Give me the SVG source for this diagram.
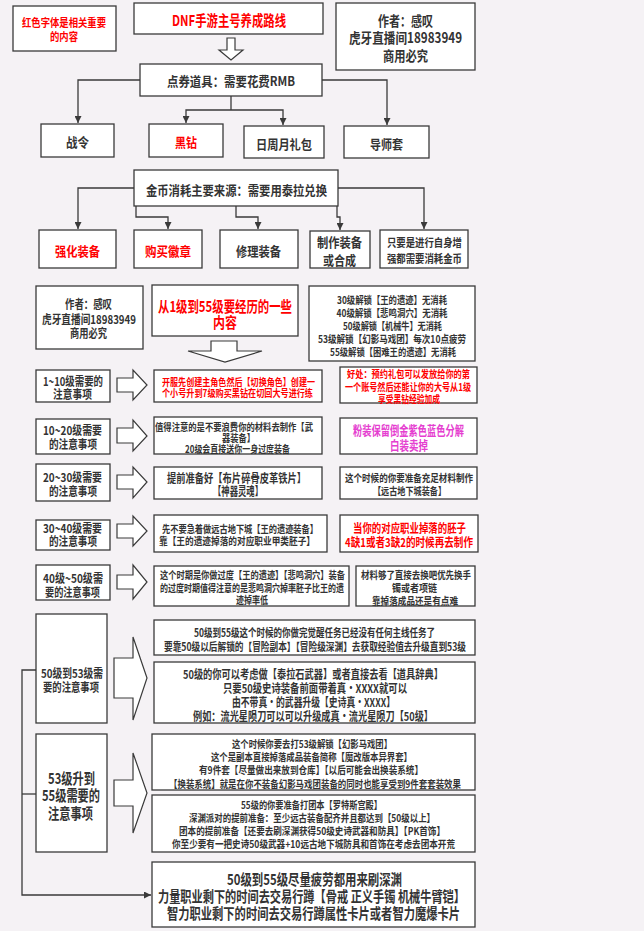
<svg xmlns="http://www.w3.org/2000/svg" width="644" height="931" viewBox="0 0 644 931">
<style>
.b{fill:#fff;stroke:#3a3a3a;stroke-width:1.3}
.c{fill:none;stroke:#3a3a3a;stroke-width:1.3}
.ba{fill:#fff;stroke:#3a3a3a;stroke-width:1.2}
text{font-family:"Noto Sans CJK SC","Noto Sans",sans-serif;font-weight:bold;fill:#333;text-anchor:middle;dominant-baseline:central}
.r{fill:#f00}
.p{fill:#e53fd0}
.s10{font-size:10px}.s105{font-size:10.5px}.s11{font-size:11px}.s12{font-size:12px}.s13{font-size:13px}.s14{font-size:14px}.s15{font-size:15px}
</style>
<defs>
<marker id="ah" viewBox="0 0 10 10" refX="10" refY="5" markerWidth="7" markerHeight="7" markerUnits="userSpaceOnUse" orient="auto"><path d="M0,0 L10,5 L0,10 z" fill="#3a3a3a"/></marker>
</defs>
<rect width="644" height="931" fill="#f5f2f5"/>

<g id="connectors">
<path class="c" d="M140,80 H78 V123" marker-end="url(#ah)"/>
<path class="c" d="M322,80 H387 V125" marker-end="url(#ah)"/>
<path class="c" d="M231,96 V110"/>
<path class="c" d="M231,110 H186 V123" marker-end="url(#ah)"/>
<path class="c" d="M231,110 H283 V125" marker-end="url(#ah)"/>
<path class="c" d="M134,188 H78 V229" marker-end="url(#ah)"/>
<path class="c" d="M338,188 H424 V229" marker-end="url(#ah)"/>
<path class="c" d="M136,206 V217 H168 V229" marker-end="url(#ah)"/>
<path class="c" d="M236,206 V217 H258 V229" marker-end="url(#ah)"/>
<path class="c" d="M337,206 V217 H340 V230" marker-end="url(#ah)"/>
<path class="c" d="M36,670 H22 V895 H151" marker-end="url(#ah)"/>
<path class="c" d="M22,794 H36"/>
</g>

<g id="block-arrows">
<polygon class="ba" points="227,38 235,38 235,50 243,50 231,60 219,50 227,50"/>
<polygon class="ba" points="211,341 237,341 237,351 262,351 225,362 188,351 211,351"/>
<polygon class="ba" points="117,378 133,378 133,370 147,385 133,400 133,392 117,392"/>
<polygon class="ba" points="117,428 133,428 133,420 147,436 133,451 133,443 117,443"/>
<polygon class="ba" points="117,475 133,475 133,467 147,482 133,498 133,489 117,489"/>
<polygon class="ba" points="117,524 133,524 133,516 147,531 133,546 133,538 117,538"/>
<polygon class="ba" points="117,575 133,575 133,565 147,582 133,599 133,589 117,589"/>
<polygon class="ba" points="114,658 133,658 133,637 147,678 133,720 133,698 114,698"/>
<polygon class="ba" points="114,780 133,780 133,753 147,793 133,833 133,806 114,806"/>
</g>

<g id="note"><rect class="b" x="13" y="6" width="103" height="45"/>
<text class="s11 r" x="64" y="22" textLength="84" lengthAdjust="spacingAndGlyphs">红色字体是相关重要</text>
<text class="s11 r" x="64" y="36" textLength="28" lengthAdjust="spacingAndGlyphs">的内容</text></g>

<g id="title"><rect class="b" x="134" y="3" width="189" height="31"/>
<text class="s15 r" x="229" y="19" textLength="114" lengthAdjust="spacingAndGlyphs">DNF手游主号养成路线</text></g>

<g id="author1"><rect class="b" x="336" y="3" width="139" height="67"/>
<text class="s14" x="405.5" y="20" textLength="55" lengthAdjust="spacingAndGlyphs">作者：感叹</text>
<text class="s14" x="405.5" y="37" textLength="113" lengthAdjust="spacingAndGlyphs">虎牙直播间18983949</text>
<text class="s14" x="405.5" y="55" textLength="45" lengthAdjust="spacingAndGlyphs">商用必究</text></g>

<g id="dianquan"><rect class="b" x="140" y="64" width="182" height="32"/>
<text class="s13" x="231" y="80" textLength="128" lengthAdjust="spacingAndGlyphs">点券道具：需要花费RMB</text></g>

<g id="zhanling"><rect class="b" x="41" y="124" width="73" height="33"/>
<text class="s13" x="77.5" y="141" textLength="23" lengthAdjust="spacingAndGlyphs">战令</text></g>
<g id="heizuan"><rect class="b" x="149" y="124" width="74" height="33"/>
<text class="s13 r" x="186" y="141" textLength="22" lengthAdjust="spacingAndGlyphs">黑钻</text></g>
<g id="libao"><rect class="b" x="244" y="126" width="80" height="32"/>
<text class="s13" x="284" y="143" textLength="56" lengthAdjust="spacingAndGlyphs">日周月礼包</text></g>
<g id="daoshi"><rect class="b" x="344" y="126" width="85" height="32"/>
<text class="s13" x="386.5" y="143" textLength="33" lengthAdjust="spacingAndGlyphs">导师套</text></g>

<g id="jinbi"><rect class="b" x="134" y="170" width="204" height="36"/>
<text class="s13" x="236.5" y="189" textLength="181" lengthAdjust="spacingAndGlyphs">金币消耗主要来源：需要用泰拉兑换</text></g>

<g id="qianghua"><rect class="b" x="39" y="230" width="77" height="38"/>
<text class="s13 r" x="77.5" y="250" textLength="45" lengthAdjust="spacingAndGlyphs">强化装备</text></g>
<g id="huizhang"><rect class="b" x="134" y="230" width="68" height="38"/>
<text class="s13 r" x="168" y="250" textLength="46" lengthAdjust="spacingAndGlyphs">购买徽章</text></g>
<g id="xiuli"><rect class="b" x="220" y="230" width="78" height="38"/>
<text class="s13" x="258.5" y="250" textLength="45" lengthAdjust="spacingAndGlyphs">修理装备</text></g>
<g id="zhizuo"><rect class="b" x="310" y="231" width="60" height="37"/>
<text class="s13" x="339.5" y="241" textLength="45" lengthAdjust="spacingAndGlyphs">制作装备</text>
<text class="s13" x="339.5" y="259" textLength="33" lengthAdjust="spacingAndGlyphs">或合成</text></g>
<g id="zishen"><rect class="b" x="380" y="230" width="88" height="38"/>
<text class="s11" x="424.5" y="242" textLength="75" lengthAdjust="spacingAndGlyphs">只要是进行自身增</text>
<text class="s11" x="424.5" y="258" textLength="75" lengthAdjust="spacingAndGlyphs">强都需要消耗金币</text></g>

<g id="author2"><rect class="b" x="36" y="286" width="107" height="63"/>
<text class="s12" x="88.5" y="303" textLength="47" lengthAdjust="spacingAndGlyphs">作者：感叹</text>
<text class="s12" x="89" y="318" textLength="94" lengthAdjust="spacingAndGlyphs">虎牙直播间18983949</text>
<text class="s12" x="88.5" y="332" textLength="37" lengthAdjust="spacingAndGlyphs">商用必究</text></g>

<g id="range"><rect class="b" x="152" y="285" width="146" height="51"/>
<text class="s15 r" x="225" y="305" textLength="134" lengthAdjust="spacingAndGlyphs">从1级到55级要经历的一些</text>
<text class="s15 r" x="225" y="321" textLength="24" lengthAdjust="spacingAndGlyphs">内容</text></g>

<g id="unlock"><rect class="b" x="309" y="286" width="166" height="75"/>
<text class="s105" x="392" y="299" textLength="110" lengthAdjust="spacingAndGlyphs">30级解锁【王的遗迹】无消耗</text>
<text class="s105" x="392" y="312" textLength="111" lengthAdjust="spacingAndGlyphs">40级解锁【悲鸣洞穴】无消耗</text>
<text class="s105" x="392.5" y="325" textLength="99" lengthAdjust="spacingAndGlyphs">50级解锁【机械牛】无消耗</text>
<text class="s105" x="392" y="338" textLength="148" lengthAdjust="spacingAndGlyphs">53级解锁【幻影马戏团】每次10点疲劳</text>
<text class="s105" x="393" y="351" textLength="126" lengthAdjust="spacingAndGlyphs">55级解锁【困难王的遗迹】无消耗</text></g>

<g id="lv1"><rect class="b" x="36" y="370" width="74" height="32"/>
<text class="s12" x="73" y="380" textLength="60" lengthAdjust="spacingAndGlyphs">1~10级需要的</text>
<text class="s12" x="72.5" y="393" textLength="39" lengthAdjust="spacingAndGlyphs">注意事项</text></g>
<g id="lv1-tip"><rect class="b" x="154" y="370" width="168" height="32"/>
<text class="s10 r" x="238.5" y="381" textLength="153" lengthAdjust="spacingAndGlyphs">开服先创建主角色然后【切换角色】创建一</text>
<text class="s10 r" x="237.5" y="392" textLength="151" lengthAdjust="spacingAndGlyphs">个小号升到7级购买黑钻在切回大号进行练</text></g>
<g id="lv1-note"><rect class="b" x="340" y="367" width="137" height="36"/>
<text class="s105 r" x="408.5" y="373" textLength="123" lengthAdjust="spacingAndGlyphs">好处：预约礼包可以发放给你的第</text>
<text class="s105 r" x="408" y="386" textLength="126" lengthAdjust="spacingAndGlyphs">一个账号然后还能让你的大号从1级</text>
<text class="s105 r" x="409" y="398.5" textLength="62" lengthAdjust="spacingAndGlyphs">享受黑钻经验加成</text></g>

<g id="lv2"><rect class="b" x="36" y="419" width="74" height="35"/>
<text class="s12" x="72.5" y="429" textLength="59" lengthAdjust="spacingAndGlyphs">10~20级需要</text>
<text class="s12" x="73" y="443" textLength="48" lengthAdjust="spacingAndGlyphs">的注意事项</text></g>
<g id="lv2-tip"><rect class="b" x="154" y="417" width="168" height="37"/>
<text class="s10" x="234" y="426" textLength="158" lengthAdjust="spacingAndGlyphs">值得注意的是不要浪费你的材料去制作【武</text>
<text class="s10" x="238.5" y="437" textLength="33" lengthAdjust="spacingAndGlyphs">器装备】</text>
<text class="s10" x="237.5" y="448" textLength="105" lengthAdjust="spacingAndGlyphs">20级会直接送你一身过度装备</text></g>
<g id="lv2-note"><rect class="b" x="340" y="418" width="137" height="36"/>
<text class="s13 p" x="408.5" y="429" textLength="111" lengthAdjust="spacingAndGlyphs">粉装保留倒金紫色蓝色分解</text>
<text class="s13 p" x="409" y="444" textLength="38" lengthAdjust="spacingAndGlyphs">白装卖掉</text></g>

<g id="lv3"><rect class="b" x="36" y="464" width="74" height="37"/>
<text class="s12" x="72.5" y="476" textLength="59" lengthAdjust="spacingAndGlyphs">20~30级需要</text>
<text class="s12" x="73" y="490" textLength="48" lengthAdjust="spacingAndGlyphs">的注意事项</text></g>
<g id="lv3-tip"><rect class="b" x="154" y="467" width="168" height="32"/>
<text class="s12" x="236.5" y="477" textLength="139" lengthAdjust="spacingAndGlyphs">提前准备好【布片碎骨皮革铁片】</text>
<text class="s12" x="238" y="490" textLength="50" lengthAdjust="spacingAndGlyphs">【神器灵魂】</text></g>
<g id="lv3-note"><rect class="b" x="340" y="467" width="137" height="32"/>
<text class="s105" x="409" y="477" textLength="128" lengthAdjust="spacingAndGlyphs">这个时候的你要准备充足材料制作</text>
<text class="s105" x="409.5" y="490" textLength="73" lengthAdjust="spacingAndGlyphs">【远古地下城装备】</text></g>

<g id="lv4"><rect class="b" x="36" y="520" width="74" height="30"/>
<text class="s12" x="72.5" y="527" textLength="59" lengthAdjust="spacingAndGlyphs">30~40级需要</text>
<text class="s12" x="73" y="540" textLength="48" lengthAdjust="spacingAndGlyphs">的注意事项</text></g>
<g id="lv4-tip"><rect class="b" x="154" y="515" width="173" height="37"/>
<text class="s105" x="240" y="528" textLength="156" lengthAdjust="spacingAndGlyphs">先不要急着做远古地下城【王的遗迹装备】</text>
<text class="s105" x="237" y="540" textLength="156" lengthAdjust="spacingAndGlyphs">靠【王的遗迹掉落的对应职业甲类胚子】</text></g>
<g id="lv4-note"><rect class="b" x="340" y="515" width="138" height="37"/>
<text class="s12 r" x="409.5" y="527" textLength="113" lengthAdjust="spacingAndGlyphs">当你的对应职业掉落的胚子</text>
<text class="s12 r" x="409" y="541" textLength="128" lengthAdjust="spacingAndGlyphs">4缺1或者3缺2的时候再去制作</text></g>

<g id="lv5"><rect class="b" x="36" y="565" width="74" height="35"/>
<text class="s12" x="73" y="577" textLength="60" lengthAdjust="spacingAndGlyphs">40级~50级需</text>
<text class="s12" x="72.5" y="591" textLength="55" lengthAdjust="spacingAndGlyphs">要的注意事项</text></g>
<g id="lv5-tip"><rect class="b" x="154" y="566" width="195" height="40"/>
<text class="s105" x="252.5" y="574" textLength="185" lengthAdjust="spacingAndGlyphs">这个时期是你做过度【王的遗迹】【悲鸣洞穴】装备</text>
<text class="s105" x="252" y="587" textLength="184" lengthAdjust="spacingAndGlyphs">的过度时期值得注意的是悲鸣洞穴掉率胚子比王的遗</text>
<text class="s105" x="252" y="599" textLength="32" lengthAdjust="spacingAndGlyphs">迹掉率低</text></g>
<g id="lv5-note"><rect class="b" x="356" y="566" width="119" height="40"/>
<text class="s105" x="416" y="574" textLength="110" lengthAdjust="spacingAndGlyphs">材料够了直接去换吧优先换手</text>
<text class="s105" x="414.5" y="587" textLength="45" lengthAdjust="spacingAndGlyphs">镯或者项链</text>
<text class="s105" x="415" y="600" textLength="86" lengthAdjust="spacingAndGlyphs">靠掉落成品还是有点难</text></g>

<g id="lv6"><rect class="b" x="36" y="614" width="71" height="109"/>
<text class="s12" x="72" y="672" textLength="62" lengthAdjust="spacingAndGlyphs">50级到53级需</text>
<text class="s12" x="71" y="686" textLength="56" lengthAdjust="spacingAndGlyphs">要的注意事项</text></g>
<g id="lv6-tip-a"><rect class="b" x="154" y="620" width="321" height="35"/>
<text class="s11" x="314.5" y="632" textLength="241" lengthAdjust="spacingAndGlyphs">50级到55级这个时候的你做完觉醒任务已经没有任何主线任务了</text>
<text class="s11" x="315" y="646" textLength="302" lengthAdjust="spacingAndGlyphs">要靠50级以后解锁的【冒险副本】【冒险级深渊】去获取经验值去升级直到53级</text></g>
<g id="lv6-tip-b"><rect class="b" x="154" y="662" width="321" height="61"/>
<text class="s12" x="313" y="673" textLength="260" lengthAdjust="spacingAndGlyphs">50级的你可以考虑做【泰拉石武器】或者直接去看【道具辞典】</text>
<text class="s12" x="315" y="687" textLength="184" lengthAdjust="spacingAndGlyphs">只要50级史诗装备前面带着真·XXXX就可以</text>
<text class="s12" x="313.5" y="701" textLength="163" lengthAdjust="spacingAndGlyphs">由不带真·的武器升级【史诗真·XXXX】</text>
<text class="s12" x="313" y="715" textLength="240" lengthAdjust="spacingAndGlyphs">例如：流光星陨刀可以可以升级成真·流光星陨刀【50级】</text></g>

<g id="lv7"><rect class="b" x="36" y="734" width="71" height="118"/>
<text class="s15" x="71.5" y="777" textLength="47" lengthAdjust="spacingAndGlyphs">53级升到</text>
<text class="s15" x="71" y="794" textLength="58" lengthAdjust="spacingAndGlyphs">55级需要的</text>
<text class="s15" x="70.5" y="812" textLength="45" lengthAdjust="spacingAndGlyphs">注意事项</text></g>
<g id="lv7-tip-a"><rect class="b" x="152" y="734" width="323" height="56"/>
<text class="s105" x="312" y="743" textLength="160" lengthAdjust="spacingAndGlyphs">这个时候你要去打53级解锁【幻影马戏团】</text>
<text class="s105" x="311.5" y="756.5" textLength="201" lengthAdjust="spacingAndGlyphs">这个是副本直接掉落成品装备简称【魔改版本异界套】</text>
<text class="s105" x="311" y="769.5" textLength="224" lengthAdjust="spacingAndGlyphs">有9件套【尽量做出来放到仓库】【以后可能会出换装系统】</text>
<text class="s105" x="315" y="783" textLength="292" lengthAdjust="spacingAndGlyphs">【换装系统】就是在你不装备幻影马戏团装备的同时也能享受到9件套套装效果</text></g>
<g id="lv7-tip-b"><rect class="b" x="152" y="795" width="323" height="57"/>
<text class="s105" x="311.5" y="804.5" textLength="141" lengthAdjust="spacingAndGlyphs">55级的你要准备打团本【罗特斯宫殿】</text>
<text class="s105" x="312" y="817" textLength="246" lengthAdjust="spacingAndGlyphs">深渊派对的提前准备：至少远古装备配齐并且都达到【50级以上】</text>
<text class="s105" x="312" y="830" textLength="266" lengthAdjust="spacingAndGlyphs">团本的提前准备【还要去刷深渊获得50级史诗武器和防具】【PK首饰】</text>
<text class="s105" x="313.5" y="843.5" textLength="283" lengthAdjust="spacingAndGlyphs">你至少要有一把史诗50级武器+10远古地下城防具和首饰在考虑去团本开荒</text></g>

<g id="final"><rect class="b" x="152" y="862" width="323" height="65"/>
<text class="s15" x="314.5" y="878" textLength="175" lengthAdjust="spacingAndGlyphs">50级到55级尽量疲劳都用来刷深渊</text>
<text class="s15" x="311.5" y="895" textLength="307" lengthAdjust="spacingAndGlyphs">力量职业剩下的时间去交易行蹲【骨戒 正义手镯 机械牛臂铠】</text>
<text class="s15" x="313.5" y="912" textLength="293" lengthAdjust="spacingAndGlyphs">智力职业剩下的时间去交易行蹲属性卡片或者智力魔爆卡片</text></g>
</svg>
